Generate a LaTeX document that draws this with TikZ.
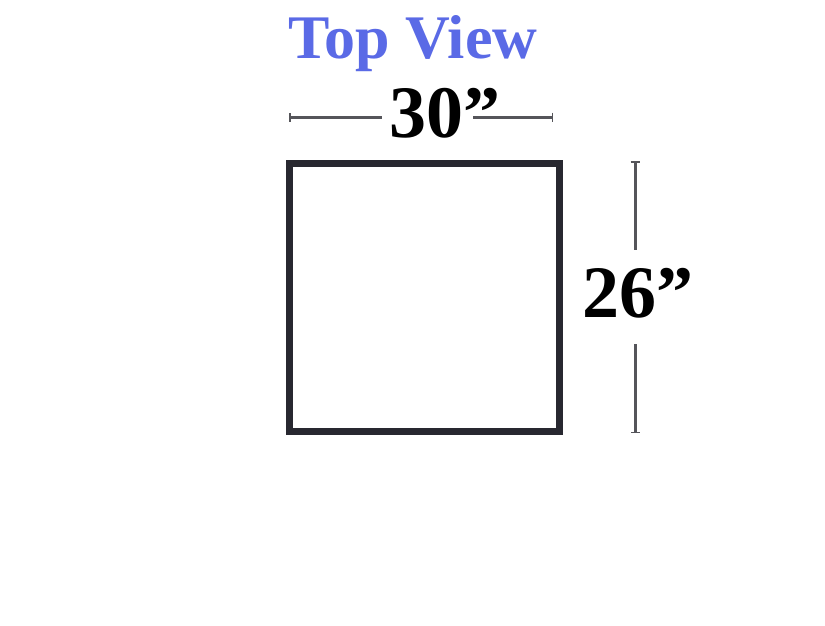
\documentclass[tikz,border=0pt]{standalone}
\usepackage{fontspec}
\setmainfont{Liberation Serif}
\usetikzlibrary{arrows.meta}
\definecolor{titleblue}{RGB}{90,106,230}
\definecolor{boxgray}{RGB}{40,40,48}
\definecolor{dimgray}{RGB}{85,85,90}
\def\big#1{\fontsize{#1}{#1}\selectfont\bfseries}
\begin{document}
\begin{tikzpicture}[x=1pt,y=-1pt,
    title/.style={text=titleblue, inner sep=0pt, font=\big{62}},
    dimtext/.style={inner sep=0pt, font=\big{74}},
    dimline/.style={draw=dimgray, line width=3pt},
    tablebox/.style={draw=boxgray, line width=7pt, minimum width=270pt, minimum height=268pt, inner sep=0pt}]
    \useasboundingbox (0,0) rectangle (825,625);
    \node[title, anchor=base] (title) at (413,58) {Top View};
    % the table seen from above
    \node[tablebox] (table) at (424,297) {};
    % width
    \node[dimtext, anchor=base] (width) at (445,137) {30”};
    \coordinate (wl) at (289,117);
    \coordinate (wla) at (382,117);
    \coordinate (wrb) at (473,117);
    \coordinate (wr) at (553,117);
    \draw[dimline, {Bar[width=9pt,line width=1.5pt]}-] (wl) -- (wla);
    \draw[dimline, -{Bar[width=9pt,line width=1.5pt]}] (wrb) -- (wr);
    % depth
    \node[dimtext, anchor=base] (depth) at (638,317) {26”};
    \coordinate (dt) at (635,161);
    \coordinate (dta) at (635,250);
    \coordinate (dbb) at (635,344);
    \coordinate (db) at (635,433);
    \draw[dimline, {Bar[width=9pt,line width=1.5pt]}-] (dt) -- (dta);
    \draw[dimline, -{Bar[width=9pt,line width=1.5pt]}] (dbb) -- (db);
\end{tikzpicture}
\end{document}
